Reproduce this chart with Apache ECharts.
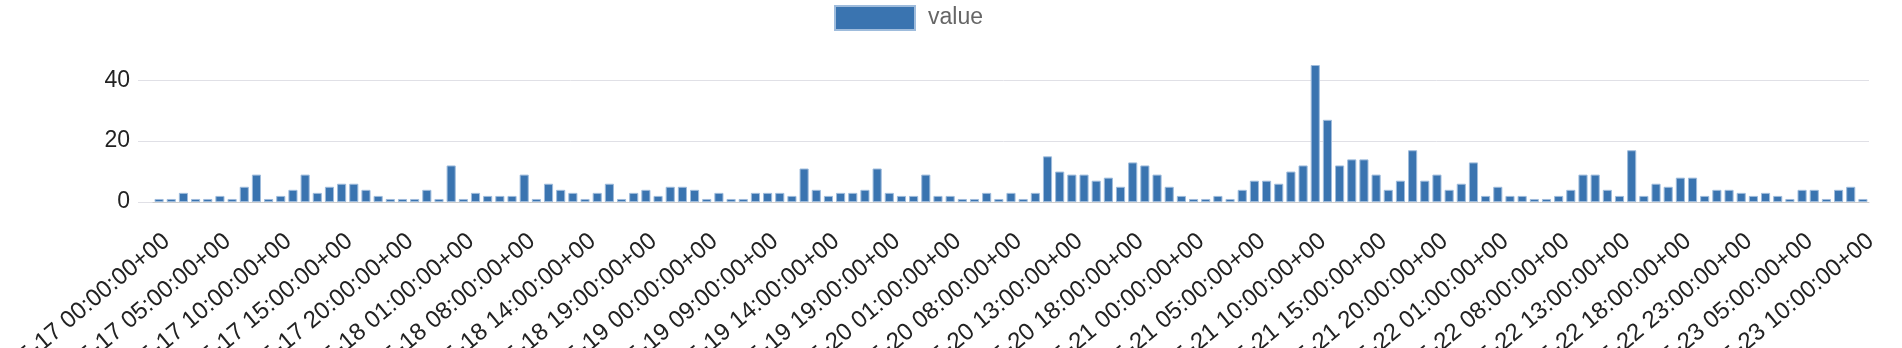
<!DOCTYPE html>
<html>
<head>
<meta charset="utf-8">
<script src="https://cdn.jsdelivr.net/npm/echarts@6/dist/echarts.min.js"></script>
<style>
html,body{margin:0;padding:0;background:#fff;}
#chart{width:1902px;height:348px;}
</style>
</head>
<body>
<div id="chart"></div>
<script>
// Date prefix and the hours present for each day (hours with no records are absent)
const datePrefix = "2023-05-";
const hours17 = ["00","01","02","03","04","05","06","07","08","09","10","11","12","13","14","15","16","17","18","19","20","21","22","23"];
const hours18 = ["00","01","02","04","05","07","08","09","10","11","13","14","15","16","17","18","19","20","21","22","23"];
const hours19 = ["00","01","03","06","08","09","10","11","12","13","14","15","16","17","18","19","20","21","22","23"];
const hours20 = ["01","02","04","06","07","08","09","10","11","12","13","14","15","16","17","18","19","20","21","23"];
const hours21 = ["00","01","02","03","04","05","06","07","08","09","10","11","12","13","14","15","16","17","18","19","20","21","22","23"];
const hours22 = ["00","01","02","03","05","07","08","09","10","11","12","13","14","15","16","17","18","19","20","21","22","23"];
const hours23 = ["00","01","02","04","05","06","07","08","09","10"];
const days = [["17",hours17],["18",hours18],["19",hours19],["20",hours20],["21",hours21],["22",hours22],["23",hours23]];

const values = [
  1,1,3,1,1,2,1,5,9,1, 2,4,9,3,5,6,6,4,2,1,
  1,1,4,1,12,1,3,2,2,2, 9,1,6,4,3,1,3,6,1,3,
  4,2,5,5,4,1,3,1,1,3, 3,3,2,11,4,2,3,3,4,11,
  3,2,2,9,2,2,1,1,3,1, 3,1,3,15,10,9,9,7,8,5,
  13,12,9,5,2,1,1,2,1,4, 7,7,6,10,12,45,27,12,14,14,
  9,4,7,17,7,9,4,6,13,2, 5,2,2,1,1,2,4,9,9,4,
  2,17,2,6,5,8,8,2,4,4, 3,2,3,2,1,4,4,1,4,5,
  1
];
const seriesName = "value";
const yTicks = {min: 0, interval: 20};

const categories = [];
days.forEach(([d, hrs]) => hrs.forEach(h => categories.push(datePrefix + d + " " + h + ":00:00+00")));

const FONT = "'Liberation Sans', Arial, Helvetica, sans-serif";
const yMax = Math.max.apply(null, values);
const gridTop = 65, gridBottom = 146, gridRight = 33;

const chart = echarts.init(document.getElementById('chart'), null, {renderer: 'canvas'});
chart.setOption({
  animation: false,
  textStyle: {fontFamily: FONT},
  legend: {
    data: [seriesName],
    left: 829, top: 0,
    itemWidth: 80, itemHeight: 24,
    icon: 'rect',
    textStyle: {fontSize: 23, color: '#666', fontFamily: FONT, padding: [0,0,0,8]}
  },
  grid: [
    {left: 153, right: gridRight, top: gridTop, bottom: gridBottom, containLabel: false, outerBoundsMode: 'none'},
    {left: 138, right: gridRight, top: gridTop, bottom: gridBottom, containLabel: false, outerBoundsMode: 'none'}
  ],
  xAxis: [
    {
      type: 'category', gridIndex: 0, data: categories,
      axisLine: {show: true, lineStyle: {color: '#ccc', width: 1}},
      axisTick: {show: false},
      axisLabel: {rotate: 40, interval: 4, fontSize: 24, lineHeight: 24, verticalAlign: 'top', color: '#222', fontFamily: FONT, margin: 27, hideOverlap: false},
      splitLine: {show: false}
    },
    {type: 'category', gridIndex: 1, data: [''], show: false}
  ],
  yAxis: [
    {type: 'value', gridIndex: 0, min: yTicks.min, max: yMax, interval: yTicks.interval, show: false, splitLine: {show: false}},
    {
      type: 'value', gridIndex: 1, min: yTicks.min, max: yMax, interval: yTicks.interval,
      axisLine: {show: false}, axisTick: {show: false},
      axisLabel: {fontSize: 23, color: '#222', fontFamily: FONT, margin: 8, showMaxLabel: false},
      splitLine: {show: true, showMaxLine: false, lineStyle: {color: '#e0e0e6', width: 1}}
    }
  ],
  series: [{
    name: seriesName, type: 'bar', xAxisIndex: 0, yAxisIndex: 0,
    data: values,
    barCategoryGap: '25%',
    itemStyle: {color: '#3a74b0', borderColor: '#9fbcdc', borderWidth: 1}
  }]
});
</script>
</body>
</html>
